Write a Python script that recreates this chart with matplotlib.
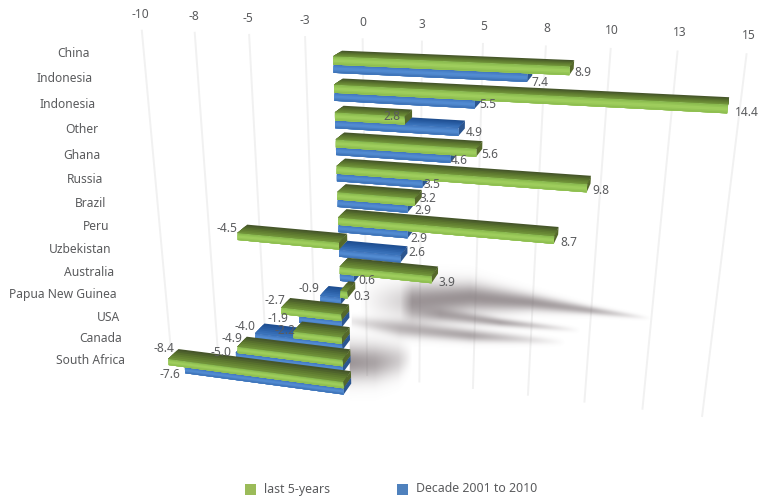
# encoding='utf-8'
import numpy as np
import matplotlib
matplotlib.use('Agg')
import matplotlib.pyplot as plt
from matplotlib.colors import to_rgb
from matplotlib.patches import Rectangle
from matplotlib.transforms import Transform

categories = ['China', 'Indonesia', 'Indonesia', 'Other', 'Ghana', 'Russia', 'Brazil', 'Peru',
              'Uzbekistan', 'Australia', 'Papua New Guinea', 'USA', 'Canada', 'South Africa']
last_5_years = [8.9, 14.4, 2.8, 5.6, 9.8, 3.2, 8.7, -4.5, 3.9, 0.3, -2.7, -2.2, -4.9, -8.4]
decade = [7.4, 5.5, 4.9, 4.6, 3.5, 2.9, 2.9, 2.6, 0.6, -0.9, -1.9, -4.0, -5.0, -7.6]
tick_values = [-10, -7.5, -5, -2.5, 0, 2.5, 5, 7.5, 10, 12.5, 15]
tick_labels = ['-10', '-8', '-5', '-3', '0', '3', '5', '8', '10', '13', '15']

# label placement, pixels
cat_y = [53, 78, 104, 129, 155, 179, 203, 226, 249, 272, 294, 317, 338, 360]
green_lab = [(583, 72), (747, 112), (392, 116), (490, 154), (601, 191), (428, 198), (569, 242),
             (227, 228), (447, 282), (362, 296), (275, 301), (285, 331), (232, 338), (164, 349)]
blue_lab = [(540, 82), (488, 105), (474, 133), (459, 161), (432, 185), (423, 210), (419, 238),
            (417, 252), (367, 280), (309, 289), (278, 319), (245, 327), (221, 353), (170, 374)]

GREY = '#5a5b5d'
FONT = 'Noto Sans'
BAR_H = 0.29


def fit_homography(src, dst):
    rows = []
    for (u, v), (x, y) in zip(src, dst):
        rows.append([u, v, 1, 0, 0, 0, -x*u, -x*v, -x])
        rows.append([0, 0, 0, u, v, 1, -y*u, -y*v, -y])
    return np.linalg.svd(np.array(rows, float))[2][-1].reshape(3, 3)


# value, row -> pixel on the front of the bars
H = fit_homography(
    [(0, 0), (8.9, 0), (0, 1), (14.4, 1), (9.8, 4), (8.7, 6), (-4.5, 7), (3.9, 8),
     (-2.7, 10), (-4.9, 12), (0, 13), (-8.4, 13)],
    [(333, 57), (571, 65), (333, 85), (727, 105), (587, 183), (555, 237), (237, 233), (432, 277),
     (283, 308), (237, 347), (342, 382), (168, 358)])
H = H / H[2, 2]
# depth goes towards a vanishing point above the chart
k = 0.021
depth_col = k * np.array([770.0, -220.0, 1.0])
P = np.column_stack([H[:, 0], H[:, 1], depth_col, H[:, 2]])

W = fit_homography(
    [(-10, 0), (10, 0), (15, 0), (-10, 1), (2.5, 1), (10, 1), (15, 1)],
    [(142, 30), (610, 47), (747, 57), (172, 352), (417, 383), (585, 398), (703, 417)])


class Plane(Transform):
    input_dims = 2
    output_dims = 2

    def __init__(self, kind, fixed=0.0):
        super().__init__()
        self.kind = kind
        self.fixed = fixed

    def transform_non_affine(self, values):
        a, b = np.asarray(values, float).T
        c = np.full_like(a, self.fixed)
        one = np.ones_like(a)
        if self.kind == 'front':
            pts = P @ np.array([a, b, c, one])
        elif self.kind == 'top':
            pts = P @ np.array([a, c, b, one])
        elif self.kind == 'side':
            pts = P @ np.array([c, a, b, one])
        else:
            pts = W @ np.array([a, b, one])
        return (pts[:2] / pts[2]).T


def ramp(colors, n):
    rgb = np.array([to_rgb(c) for c in colors])
    t = np.linspace(0, len(colors) - 1, n)
    return [tuple(np.interp(x, np.arange(len(colors)), rgb[:, j]) for j in range(3)) for x in t]


fig = plt.figure(figsize=(7.58, 4.97), dpi=100)
ax = fig.add_axes([0, 0, 1, 1])
ax.set_xlim(0, 758)
ax.set_ylim(497, 0)
ax.axis('off')
base = ax.transData
wall = Plane('wall') + base

for v, lab in zip(tick_values, tick_labels):
    ax.plot([v, v], [0, 1], color='#f1f1f1', lw=1.4, transform=wall, zorder=1)
    ax.text(v, -0.045, lab, transform=wall, ha='center', va='center', fontsize=8.6,
            color=GREY, family=FONT)

# soft shadow under the lower bars
xx, yy = np.meshgrid(np.arange(758), np.arange(497))
alpha = np.zeros(xx.shape)
streaks = [
    ([360, 400, 412, 470, 530, 590, 650], [302, 302, 302, 298, 303, 311, 319], [17, 17, 17, 14, 8, 4, 2], [0.0, 0.28, 0.72, 0.75, 0.7, 0.55, 0.0]),
    ([400, 440, 500, 580], [312, 315, 323, 331], [9, 7, 4, 2.5], [0.0, 0.55, 0.6, 0.0]),
    ([352, 400, 470, 565], [322, 329, 336, 343], [5, 8, 6, 3], [0.15, 0.5, 0.6, 0.0]),
    ([350, 375, 398, 412], [363, 363, 361, 358], [17, 17, 15, 10], [0.72, 0.62, 0.35, 0.0]),
]
for sx, sy, sw, sa in streaks:
    yc = np.interp(xx, sx, sy)
    wd = np.interp(xx, sx, sw)
    st = np.interp(xx, sx, sa, left=0, right=0)
    alpha = 1 - (1 - alpha) * (1 - st * np.exp(-((yy - yc) / wd) ** 2))
shadow = np.dstack([np.full(xx.shape, 0.47), np.full(xx.shape, 0.43), np.full(xx.shape, 0.44), alpha])
ax.imshow(shadow, extent=(-0.5, 757.5, 496.5, -0.5), zorder=2, aspect='auto', interpolation='bilinear')

green_style = {'top': ['#46562a', '#5b752e', '#6f9238'], 'front': ['#8aba4e', '#a3d260', '#8ebe50'], 'side': '#55692a'}
blue_style = {'top': ['#1f4f92', '#2a5fa6', '#3a73bb'], 'front': ['#4379c0', '#5590d6', '#3f74b8'], 'side': '#2c5690'}
front_tf = Plane('front') + base
N_STRIPS = 6


def draw_bar(row_top, value, style, z):
    # each strip runs on to the front edge, so no seams show between them
    top_tf = Plane('top', row_top) + base
    for i, c in enumerate(ramp(style['top'], N_STRIPS)):
        d = 1 - i / N_STRIPS
        ax.barh(d / 2, value, height=d, left=0, color=c, lw=0, transform=top_tf, zorder=z)
    cap_tf = Plane('side', max(value, 0)) + base
    ax.barh(0.5, BAR_H, height=1, left=row_top, color=style['side'], lw=0, transform=cap_tf, zorder=z)
    for i, c in enumerate(ramp(style['front'], N_STRIPS)):
        h = BAR_H * (1 - i / N_STRIPS)
        ax.barh(row_top + BAR_H - h / 2, value, height=h, left=0, color=c, lw=0, transform=front_tf, zorder=z)


for i in range(len(categories)):
    z = 3 + i * 0.1
    draw_bar(i + BAR_H, decade[i], blue_style, z)
    draw_bar(i, last_5_years[i], green_style, z + 0.05)

for i, name in enumerate(categories):
    ax.text(90 + 2.7 * i, cat_y[i] + 0.5, name, ha='right', va='center', fontsize=8.7, color=GREY, family=FONT)
    ax.text(green_lab[i][0], green_lab[i][1], str(last_5_years[i]), ha='center', va='center', fontsize=8.6,
            color=GREY, family=FONT, zorder=10)
    ax.text(blue_lab[i][0], blue_lab[i][1], str(decade[i]), ha='center', va='center', fontsize=8.6,
            color=GREY, family=FONT, zorder=10)

ax.add_patch(Rectangle((245, 484), 11, 11, color='#9bbb59', lw=0))
ax.add_patch(Rectangle((397, 484), 11, 11, color='#4f81bd', lw=0))
ax.text(264, 489, 'last 5-years', va='center', fontsize=8.85, color=GREY, family=FONT)
ax.text(416, 489, 'Decade 2001 to 2010', va='center', fontsize=8.85, color=GREY, family=FONT)
ax.set_xlim(0, 758)
ax.set_ylim(497, 0)

fig.savefig('out.png', dpi=100)
